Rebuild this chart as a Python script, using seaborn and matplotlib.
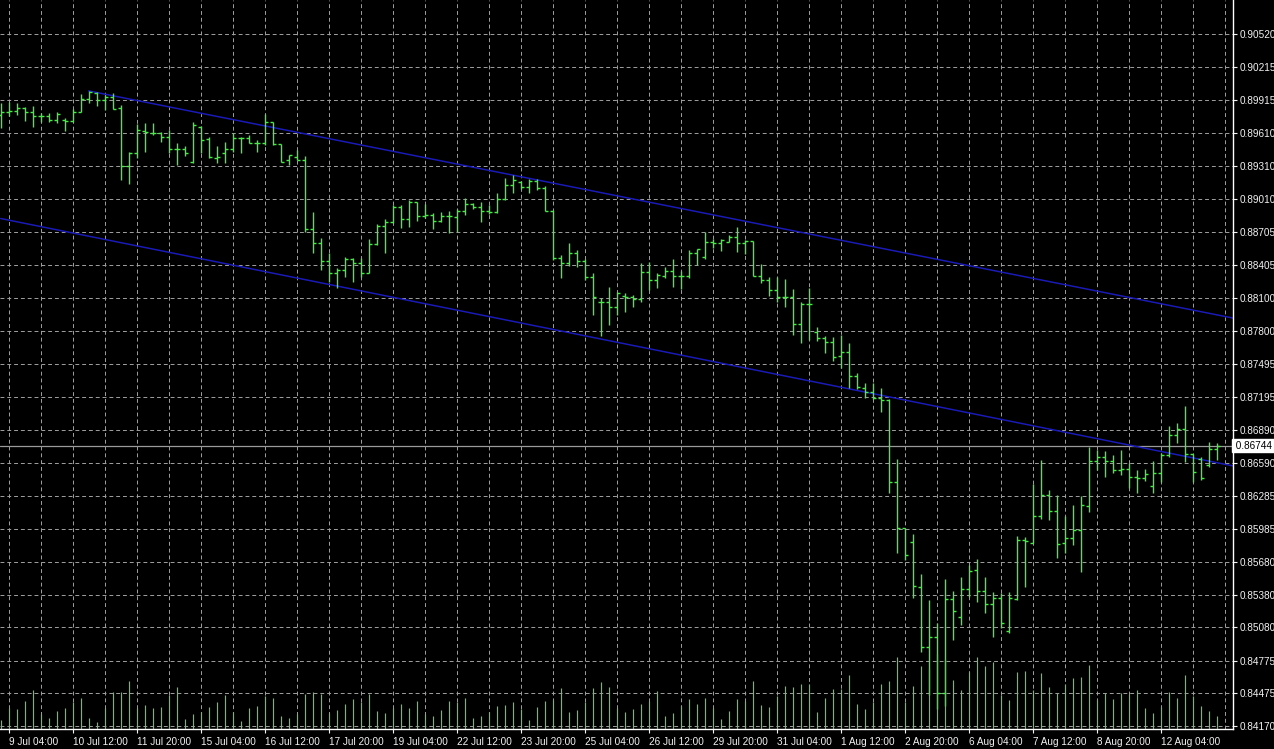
import numpy as np
import pandas as pd
import matplotlib
matplotlib.use("Agg")
import matplotlib.pyplot as plt
import matplotlib.transforms as mtransforms
import seaborn as sns

# H4 bars
opens = [
    0.89777, 0.89805, 0.89814, 0.89842, 0.89805, 0.89768, 0.89768, 0.89732, 0.89732, 0.89722,
    0.89805, 0.89924, 0.89979, 0.89915, 0.89943, 0.89842, 0.89310, 0.89429, 0.89631, 0.89613,
    0.89613, 0.89576, 0.89466, 0.89466, 0.89346, 0.89667, 0.89557, 0.89383, 0.89429, 0.89466,
    0.89567, 0.89567, 0.89521, 0.89521, 0.89713, 0.89512, 0.89365, 0.89392, 0.89365, 0.88732,
    0.88604, 0.88439, 0.88329, 0.88356, 0.88457, 0.88420, 0.88329, 0.88595, 0.88760, 0.88796,
    0.88934, 0.88824, 0.88980, 0.88851, 0.88860, 0.88805, 0.88851, 0.88842, 0.88897, 0.88961,
    0.88934, 0.88897, 0.88888, 0.89007, 0.89136, 0.89163, 0.89117, 0.89172, 0.89108, 0.88897,
    0.88466, 0.88420, 0.88512, 0.88439, 0.88292, 0.88063, 0.88063, 0.88017, 0.88118, 0.88109,
    0.88090, 0.88338, 0.88264, 0.88301, 0.88347, 0.88301, 0.88301, 0.88512, 0.88476, 0.88613,
    0.88604, 0.88613, 0.88659, 0.88604, 0.88622, 0.88301, 0.88264, 0.88173, 0.88109, 0.88109,
    0.87861, 0.88044, 0.87788, 0.87733, 0.87696, 0.87567, 0.87604, 0.87384, 0.87274, 0.87237,
    0.87182, 0.87164, 0.86412, 0.85990, 0.85862, 0.85449, 0.84899, 0.84991, 0.84477, 0.85339,
    0.85174, 0.85431, 0.85605, 0.85412, 0.85293, 0.85348, 0.85046, 0.85339, 0.85880, 0.85853,
    0.86100, 0.86293, 0.86146, 0.85853, 0.85899, 0.85972, 0.86192, 0.86605, 0.86641, 0.86605,
    0.86522, 0.86531, 0.86458, 0.86449, 0.86375, 0.86494, 0.86660, 0.86843, 0.86898, 0.86669,
    0.86623, 0.86568, 0.86715,
]
highs = [
    0.89887, 0.89897, 0.89887, 0.89851, 0.89860, 0.89796, 0.89796, 0.89805, 0.89750, 0.89833,
    0.89970, 0.89998, 0.89988, 0.89961, 0.89979, 0.89869, 0.89438, 0.89695, 0.89704, 0.89704,
    0.89622, 0.89640, 0.89521, 0.89493, 0.89713, 0.89677, 0.89576, 0.89493, 0.89530, 0.89613,
    0.89576, 0.89594, 0.89548, 0.89787, 0.89713, 0.89512, 0.89411, 0.89456, 0.89402, 0.88888,
    0.88650, 0.88512, 0.88374, 0.88476, 0.88466, 0.88466, 0.88640, 0.88778, 0.88824, 0.88952,
    0.88952, 0.88998, 0.88980, 0.88961, 0.88879, 0.88888, 0.88897, 0.88915, 0.89016, 0.88970,
    0.88980, 0.88952, 0.89062, 0.89200, 0.89227, 0.89172, 0.89191, 0.89191, 0.89126, 0.88906,
    0.88494, 0.88604, 0.88540, 0.88457, 0.88329, 0.88099, 0.88200, 0.88155, 0.88145, 0.88127,
    0.88420, 0.88429, 0.88329, 0.88384, 0.88457, 0.88347, 0.88540, 0.88549, 0.88705, 0.88640,
    0.88640, 0.88677, 0.88750, 0.88631, 0.88622, 0.88411, 0.88292, 0.88292, 0.88274, 0.88182,
    0.88063, 0.88191, 0.87833, 0.87751, 0.87742, 0.87760, 0.87687, 0.87411, 0.87320, 0.87320,
    0.87274, 0.87173, 0.86623, 0.85990, 0.85935, 0.85568, 0.85330, 0.85119, 0.85523, 0.85412,
    0.85541, 0.85651, 0.85706, 0.85541, 0.85403, 0.85394, 0.85403, 0.85917, 0.85908, 0.86394,
    0.86614, 0.86339, 0.86293, 0.86100, 0.86201, 0.86284, 0.86733, 0.86706, 0.86696, 0.86660,
    0.86706, 0.86586, 0.86522, 0.86531, 0.86605, 0.86678, 0.86926, 0.86953, 0.87109, 0.86669,
    0.86641, 0.86779, 0.86770,
]
lows = [
    0.89658, 0.89768, 0.89777, 0.89722, 0.89667, 0.89713, 0.89713, 0.89704, 0.89631, 0.89713,
    0.89805, 0.89887, 0.89860, 0.89823, 0.89833, 0.89181, 0.89145, 0.89383, 0.89438, 0.89594,
    0.89530, 0.89429, 0.89319, 0.89402, 0.89337, 0.89429, 0.89383, 0.89337, 0.89337, 0.89438,
    0.89429, 0.89521, 0.89438, 0.89502, 0.89502, 0.89346, 0.89319, 0.89365, 0.88705, 0.88512,
    0.88356, 0.88246, 0.88191, 0.88292, 0.88246, 0.88292, 0.88329, 0.88586, 0.88512, 0.88787,
    0.88741, 0.88750, 0.88805, 0.88833, 0.88732, 0.88796, 0.88695, 0.88705, 0.88860, 0.88915,
    0.88796, 0.88870, 0.88879, 0.88998, 0.89062, 0.89099, 0.89062, 0.89090, 0.88897, 0.88448,
    0.88283, 0.88393, 0.88384, 0.88264, 0.87943, 0.87751, 0.87852, 0.87943, 0.87971, 0.88017,
    0.88063, 0.88173, 0.88191, 0.88283, 0.88200, 0.88182, 0.88283, 0.88402, 0.88457, 0.88558,
    0.88530, 0.88613, 0.88521, 0.88503, 0.88301, 0.88237, 0.88118, 0.88063, 0.88017, 0.87760,
    0.87687, 0.87714, 0.87705, 0.87595, 0.87522, 0.87457, 0.87274, 0.87265, 0.87182, 0.87173,
    0.87054, 0.86311, 0.85761, 0.85697, 0.85348, 0.84853, 0.84459, 0.84330, 0.84360, 0.84963,
    0.85101, 0.85357, 0.85312, 0.85211, 0.84991, 0.85073, 0.85027, 0.85330, 0.85449, 0.85853,
    0.86073, 0.86064, 0.85715, 0.85761, 0.85834, 0.85587, 0.86137, 0.86522, 0.86458, 0.86494,
    0.86476, 0.86357, 0.86311, 0.86421, 0.86311, 0.86412, 0.86641, 0.86770, 0.86596, 0.86412,
    0.86430, 0.86549, 0.86614,
]
closes = [
    0.89805, 0.89814, 0.89842, 0.89805, 0.89768, 0.89768, 0.89732, 0.89787, 0.89722, 0.89805,
    0.89924, 0.89988, 0.89915, 0.89943, 0.89833, 0.89310, 0.89429, 0.89640, 0.89622, 0.89613,
    0.89576, 0.89466, 0.89466, 0.89429, 0.89686, 0.89548, 0.89392, 0.89392, 0.89466, 0.89567,
    0.89567, 0.89521, 0.89521, 0.89713, 0.89512, 0.89346, 0.89411, 0.89365, 0.88732, 0.88604,
    0.88439, 0.88329, 0.88356, 0.88457, 0.88420, 0.88329, 0.88595, 0.88760, 0.88796, 0.88934,
    0.88824, 0.88980, 0.88851, 0.88860, 0.88805, 0.88851, 0.88851, 0.88897, 0.88961, 0.88934,
    0.88897, 0.88888, 0.89007, 0.89136, 0.89181, 0.89117, 0.89172, 0.89108, 0.88897, 0.88466,
    0.88420, 0.88512, 0.88439, 0.88292, 0.88109, 0.88063, 0.88017, 0.88145, 0.88109, 0.88090,
    0.88338, 0.88264, 0.88310, 0.88347, 0.88301, 0.88301, 0.88512, 0.88549, 0.88613, 0.88604,
    0.88631, 0.88659, 0.88604, 0.88622, 0.88301, 0.88264, 0.88173, 0.88109, 0.88109, 0.87861,
    0.88044, 0.88044, 0.87733, 0.87696, 0.87558, 0.87604, 0.87384, 0.87283, 0.87237, 0.87182,
    0.87164, 0.86412, 0.85990, 0.85743, 0.85458, 0.84899, 0.84991, 0.84477, 0.85339, 0.85229,
    0.85431, 0.85596, 0.85412, 0.85293, 0.85348, 0.85119, 0.85348, 0.85880, 0.85871, 0.86100,
    0.86293, 0.86146, 0.85843, 0.85899, 0.85972, 0.86201, 0.86605, 0.86641, 0.86605, 0.86522,
    0.86531, 0.86458, 0.86449, 0.86485, 0.86494, 0.86660, 0.86843, 0.86898, 0.86669, 0.86504,
    0.86449, 0.86715, 0.86744,
]
# tick volume (relative)
volume = [
    9, 21, 20, 28, 39, 15, 11, 18, 21, 27, 31, 11, 7, 21, 37, 37, 48, 21, 24, 21,
    22, 34, 42, 10, 15, 17, 22, 27, 34, 17, 8, 21, 23, 33, 31, 13, 11, 15, 35, 37,
    35, 16, 19, 25, 30, 27, 35, 18, 16, 21, 25, 21, 28, 15, 13, 19, 28, 27, 31, 11,
    13, 17, 23, 24, 27, 20, 9, 22, 28, 29, 41, 17, 19, 27, 41, 47, 42, 21, 17, 20,
    25, 28, 38, 13, 16, 23, 30, 25, 31, 21, 10, 18, 30, 28, 48, 24, 22, 33, 43, 42,
    45, 45, 17, 31, 40, 40, 54, 25, 20, 27, 45, 48, 72, 27, 43, 63, 60, 75, 70, 49,
    39, 57, 72, 63, 67, 34, 29, 57, 58, 39, 56, 42, 36, 45, 51, 52, 64, 29, 36, 30,
    36, 35, 39, 21, 16, 22, 37, 31, 54, 33, 23, 18, 13,
]

time_labels = ["9 Jul 04:00", "10 Jul 12:00", "11 Jul 20:00", "15 Jul 04:00", "16 Jul 12:00",
               "17 Jul 20:00", "19 Jul 04:00", "22 Jul 12:00", "23 Jul 20:00", "25 Jul 04:00",
               "26 Jul 12:00", "29 Jul 20:00", "31 Jul 04:00", "1 Aug 12:00", "2 Aug 20:00",
               "6 Aug 04:00", "7 Aug 12:00", "8 Aug 20:00", "12 Aug 04:00"]
price_labels = ["0.90520", "0.90215", "0.89915", "0.89610", "0.89310", "0.89010", "0.88705",
                "0.88405", "0.88100", "0.87800", "0.87495", "0.87195", "0.86890", "0.86590",
                "0.86285", "0.85985", "0.85680", "0.85380", "0.85080", "0.84775", "0.84475",
                "0.84170"]
last_price = 0.86744

# channel anchors (bar index, price)
upper_x = [11, 154]
upper_y = [0.89998, 0.87916]
lower_x = [0, 154]
lower_y = [0.88828, 0.86560]

df = pd.DataFrame({"open": opens, "high": highs, "low": lows, "close": closes, "volume": volume})
df["bar"] = np.arange(len(df))

sns.set_theme(style="dark", rc={"axes.facecolor": "black", "figure.facecolor": "black",
                                "savefig.facecolor": "black"})
plt.rcParams["font.family"] = ["Liberation Sans", "DejaVu Sans"]

W, H = 1274, 749
fig = plt.figure(figsize=(W / 100, H / 100), dpi=100)
ax = fig.add_axes([0, 20 / H, 1233 / W, 729 / H])

bar_green = "#4ae84a"
grid_col = "#a0a0a0"
text_col = "#f2f2f2"

# volumes on a hidden twin axis
ax2 = ax.twinx()
ax2.vlines(df["bar"], 0, df["volume"], color="#58cc58", lw=0.85)
ax2.set_ylim(0, 729)
ax2.set_axis_off()

# OHLC bars
ax.vlines(df["bar"], df["low"], df["high"], color=bar_green, lw=1.0, zorder=3)
ax.hlines(df["open"], df["bar"] - 0.38, df["bar"], color=bar_green, lw=1.0, zorder=3)
ax.hlines(df["close"], df["bar"], df["bar"] + 0.38, color=bar_green, lw=1.0, zorder=3)

# trend channel
sns.lineplot(x=upper_x, y=upper_y, ax=ax, color="#1a1ab4", lw=1.1, zorder=2)
sns.lineplot(x=lower_x, y=lower_y, ax=ax, color="#1a1ab4", lw=1.1, zorder=2)

# current price line
ax.axhline(last_price, color="#9a9a9a", lw=0.9, zorder=1)

ax.set_xlim(-0.09, 154.04)
ax.set_ylim(0.84147, 0.90832)

label_pos = [1 + 8 * k for k in range(len(time_labels))]
ax.set_xticks(label_pos)
ax.set_xticklabels(time_labels)
ax.set_xticks([1 + 4 * k for k in range(39)], minor=True)
ax.set_yticks([float(p) for p in price_labels])
ax.set_yticklabels(price_labels)
ax.yaxis.tick_right()

ax.grid(True, which="both", axis="x", color=grid_col, lw=0.7, linestyle=(0, (4, 3)))
ax.grid(True, which="major", axis="y", color=grid_col, lw=0.7, linestyle=(0, (4, 3)))
ax.set_axisbelow(True)

ax.tick_params(axis="x", which="major", colors=text_col, labelsize=7.2, length=3, width=0.8,
               direction="out", pad=3, bottom=True)
ax.tick_params(axis="x", which="minor", length=0)
ax.tick_params(axis="y", colors=text_col, labelsize=7.2, length=3, width=0.8,
               direction="out", pad=2, right=True, left=False)
for lbl in ax.get_xticklabels():
    lbl.set_horizontalalignment("left")

for side in ["left", "top"]:
    ax.spines[side].set_visible(False)
for side in ["right", "bottom"]:
    ax.spines[side].set_visible(True)
    ax.spines[side].set_color("white")
    ax.spines[side].set_linewidth(1)

ax.set_xlabel("")
ax.set_ylabel("")

# last price tag
trans = mtransforms.blended_transform_factory(ax.transAxes, ax.transData)
ax.text(1.0, last_price, " 0.86744 ", transform=trans, ha="left", va="center",
        fontsize=7.2, color="black", zorder=5, clip_on=False,
        bbox=dict(boxstyle="square,pad=0.15", fc="white", ec="white"))

fig.savefig("out.png", dpi=100, facecolor="black")
